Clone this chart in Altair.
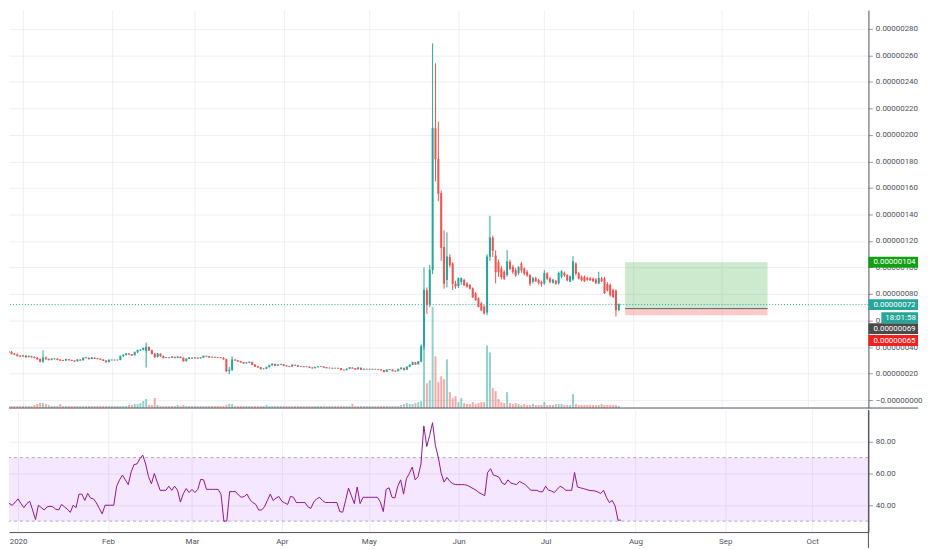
import altair as alt
import pandas as pd

# Daily candles of a BTC pair, prices in satoshi (1 = 0.00000001), starting 2019-12-26
START = "2019-12-26"

opens = [
    37, 36, 36.5, 35, 34.5, 33.5, 33, 33.5, 32.5, 33,
    32.5, 32, 31, 29, 32, 31, 30.5, 31, 31.2, 30.5,
    30, 29.8, 30.8, 30.3, 29.8, 29.3, 30.5, 30, 31.8, 31.9,
    31, 32, 31.4, 31.2, 30.6, 29.8, 28.8, 30.2, 30.3, 30.2,
    30.3, 33, 34, 35, 34.5, 33.8, 36, 37.5, 37.8, 37,
    40, 37.5, 35, 32.5, 35, 33.2, 32, 32.1, 32, 32.6,
    32, 32.6, 32, 29.5, 31, 32, 31.5, 32, 31.5, 32,
    33.2, 33.1, 32.3, 32.4, 32.3, 32.2, 32, 31, 22, 22.5,
    30.5, 30, 29.3, 28.5, 27.8, 28.2, 28.8, 26.8, 25.5, 24.8,
    23.5, 23.6, 24.8, 26.2, 27.3, 26, 26.6, 27, 26, 25.6,
    25.2, 26.5, 26.2, 25.3, 25.3, 25.1, 25.2, 24.5, 24.1, 24.8,
    25.2, 25.3, 24.7, 24.2, 24.2, 24, 24.1, 24, 22.8, 22.6,
    23.5, 24.5, 24, 23.2, 24.4, 23, 23.4, 23.3, 23.4, 23.2,
    23.3, 23.1, 22.6, 21.3, 22.8, 23, 22, 21.8, 23.3, 24.3,
    22.8, 25, 26.5, 28.5, 27, 29, 40.5, 83, 72, 98,
    205, 182, 156, 115.5, 90.6, 108, 103, 88, 86, 89,
    90.6, 88, 86.8, 84.3, 80.6, 76.8, 73, 70.6, 66, 108,
    122.5, 109, 104, 99.3, 96.8, 94.3, 104.3, 100.5, 98, 95.6,
    103, 99.3, 96.8, 94.3, 89.3, 91.8, 90.6, 89.3, 88, 95.6,
    91.8, 88.5, 90, 88, 93, 96, 94.3, 89.3, 91, 103,
    95.6, 93, 93, 92, 92, 91.5, 91, 88, 91.8, 91.8,
    87.5, 86.8, 83, 82.5, 68,
]
highs = [
    38, 37, 37, 35.5, 35, 34, 34, 34, 33.5, 33.5,
    33, 32.5, 31.5, 37.5, 33, 31.5, 31.5, 31.5, 31.5, 31,
    30.5, 31, 31, 30.5, 30, 30.8, 30.8, 32, 32.3, 32,
    32.3, 32.2, 31.8, 31.5, 30.8, 30, 30.5, 30.5, 30.6, 30.5,
    33.5, 34.5, 35.5, 35.5, 34.8, 36.5, 38, 38.2, 39.5, 43.4,
    40.5, 38, 35.5, 35.5, 35.3, 33.5, 32.5, 32.4, 33, 32.8,
    33, 32.8, 32.2, 31.5, 32.2, 32.2, 32.4, 32.2, 32.4, 33.5,
    33.5, 33.4, 32.6, 32.6, 32.6, 32.5, 32.2, 31.2, 25, 33,
    31, 30.4, 29.6, 28.8, 28.5, 29, 29, 27, 25.8, 25,
    24, 25, 26.5, 27.5, 27.5, 26.8, 27.2, 27.2, 26.2, 25.8,
    26.8, 26.8, 26.4, 25.6, 25.5, 25.4, 25.4, 24.7, 25, 25.4,
    25.5, 25.5, 24.9, 24.5, 24.4, 24.3, 24.3, 24.2, 23, 23.7,
    24.7, 24.7, 24.2, 24.6, 24.6, 23.6, 23.6, 23.6, 23.6, 23.5,
    23.5, 23.3, 22.8, 23, 23.2, 23.2, 22.3, 23.5, 24.5, 24.5,
    25.2, 26.8, 28.8, 28.7, 29.2, 42, 100, 85, 102, 269,
    254, 210, 158, 128, 126.5, 110, 104, 90, 92.5, 92.5,
    91.5, 89, 87.5, 85, 81.5, 77.5, 74, 71.5, 110, 139,
    124, 113, 106, 101, 98, 113, 106, 102, 99.5, 101,
    104.3, 100, 98, 95, 93, 93, 91.5, 90, 98, 96.5,
    93, 91.5, 90.6, 97, 98, 97, 95, 94, 108.5, 104,
    96.5, 94, 94, 93, 93, 92.5, 92, 96.8, 93, 93,
    89, 88, 84, 83.5, 73,
]
lows = [
    35.5, 35.5, 34.5, 34, 33, 32.5, 32.5, 32, 32, 32,
    31.5, 30.5, 28.5, 28, 30.5, 30, 30, 30.5, 30.2, 29.5,
    29.5, 29.5, 30, 29.5, 29, 29, 29.8, 29.8, 31.3, 30.8,
    30.8, 31, 31, 30.3, 29.5, 28.5, 28.5, 29.8, 29.8, 29.9,
    30, 32.5, 33.5, 34, 33.5, 33.5, 35.5, 37, 37.5, 24.5,
    37, 34.5, 32, 32, 32.8, 31.5, 31.5, 31.6, 31.8, 31.8,
    31.8, 31.8, 29, 29, 30.8, 31.2, 31.3, 31.3, 31.3, 31.8,
    32.8, 32, 32, 32, 31.8, 31.6, 30.5, 21, 19.5, 22,
    29.8, 29, 28.2, 27.5, 27.5, 28, 26.5, 25.2, 24.5, 23.2,
    23.2, 23.4, 24.6, 26, 25.8, 25.8, 26.4, 25.8, 25.4, 25,
    25, 26, 25.1, 25, 24.9, 24.9, 24.3, 23.9, 23.9, 24.6,
    25, 24.5, 24, 24, 23.8, 23.8, 23.8, 22.6, 22.4, 22.4,
    23.3, 23.8, 23, 23, 22.8, 22.8, 23.1, 23.1, 23, 23,
    22.9, 22.4, 21.1, 21.1, 22.6, 21.8, 21.6, 21.6, 23.1, 22.6,
    22.6, 24.8, 26.3, 26.8, 26.8, 28.5, 38, 65, 70, 95,
    165, 150, 105, 84, 85, 100, 83, 84, 84.5, 87,
    86, 85, 83.5, 77, 75, 70, 67, 64.5, 64, 105,
    108, 88, 93, 91, 90.6, 93, 98, 95, 93, 94.5,
    96, 94, 93, 86, 88, 89, 87, 85.5, 87, 90.6,
    88, 88, 87, 87, 92, 93, 89.5, 89, 90, 94,
    91, 89.5, 89, 90, 90, 89, 87.5, 87.5, 89, 80,
    82, 78, 77, 63, 67,
]
closes = [
    36, 36.5, 35, 34.5, 33.5, 33, 33.5, 32.5, 33, 32.5,
    32, 31, 29, 32, 31, 30.5, 31, 31.2, 30.5, 30,
    29.8, 30.8, 30.3, 29.8, 29.3, 30.5, 30, 31.8, 31.9, 31,
    32, 31.4, 31.2, 30.6, 29.8, 28.8, 30.2, 30.3, 30.2, 30.3,
    33, 34, 35, 34.5, 33.8, 36, 37.5, 37.8, 39, 40,
    37.5, 35, 32.5, 35, 33.2, 32, 32.1, 32, 32.6, 32,
    32.6, 32, 29.5, 31, 32, 31.5, 32, 31.5, 32, 33.2,
    33.1, 32.3, 32.4, 32.3, 32.2, 32, 31, 22, 22.5, 30.5,
    30, 29.3, 28.5, 27.8, 28.2, 28.8, 26.8, 25.5, 24.8, 23.5,
    23.6, 24.8, 26.2, 27.3, 26, 26.6, 27, 26, 25.6, 25.2,
    26.5, 26.2, 25.3, 25.3, 25.1, 25.2, 24.5, 24.1, 24.8, 25.2,
    25.3, 24.7, 24.2, 24.2, 24, 24.1, 24, 22.8, 22.6, 23.5,
    24.5, 24, 23.2, 24.4, 23, 23.4, 23.3, 23.4, 23.2, 23.3,
    23.1, 22.6, 21.3, 22.8, 23, 22, 21.8, 23.3, 24.3, 22.8,
    25, 26.5, 28.5, 27, 29, 40.5, 83, 72, 98, 205,
    182, 156, 115, 88, 108, 102, 88, 86, 91.5, 91.8,
    86.8, 85.5, 84.3, 78, 75.6, 70.6, 68, 65.6, 108, 122.5,
    113, 96.8, 96.8, 93, 91.8, 104.3, 99.3, 96.8, 94.3, 100,
    98, 95.6, 94.3, 88, 91.8, 90, 88.5, 88, 95.6, 91.8,
    89.3, 90.6, 88, 95.6, 96.8, 94.3, 90.6, 93, 104.3, 95.6,
    92, 90.6, 90, 91, 90.6, 90, 88.5, 91.8, 90, 81,
    83, 79.3, 78, 68, 72,
]
# volume (relative units)
volumes = [
    2, 2, 2, 2, 2, 2, 2, 2, 2, 2,
    3, 4, 5, 5, 4, 3, 2, 2, 2, 4,
    2, 2, 2, 2, 2, 2, 2, 2, 2, 2,
    2, 2, 2, 2, 2, 2, 2, 2, 2, 2,
    2, 2, 2, 3, 3, 4, 4, 5, 7, 9,
    3, 3, 10, 3, 2, 2, 2, 2, 2, 2,
    3, 2, 3, 2, 2, 2, 2, 2, 2, 2,
    2, 2, 2, 2, 2, 2, 2, 3, 4, 4,
    2, 2, 2, 2, 2, 2, 2, 2, 2, 2,
    2, 3, 2, 2, 2, 2, 2, 2, 2, 2,
    2, 2, 2, 2, 2, 2, 2, 2, 2, 2,
    2, 2, 2, 2, 2, 2, 2, 2, 2, 2,
    2, 4, 2, 2, 2, 2, 2, 2, 2, 2,
    2, 2, 2, 2, 2, 2, 2, 2, 3, 4,
    5, 4, 4, 5, 6, 7, 95, 25, 28, 102,
    52, 26, 32, 29, 49, 16, 10, 12, 6, 10,
    5, 4, 4, 6, 4, 5, 6, 6, 63, 56,
    20, 17, 9, 6, 5, 16, 5, 4, 5, 4,
    3, 4, 3, 3, 4, 3, 3, 3, 6, 3,
    3, 3, 4, 4, 4, 3, 3, 3, 14, 4,
    3, 3, 3, 3, 3, 3, 3, 3, 4, 3,
    3, 3, 3, 3, 2,
]
rsi_values = [
    49, 46, 43, 41, 40, 42, 44, 41, 38.5, 41,
    42.5, 37, 31, 40, 38.5, 37, 39, 39.4, 39, 37.5,
    37, 40.5, 39, 37.5, 35.5, 40, 38.5, 47, 47, 43,
    47.5, 44.5, 44, 41.5, 38, 34.6, 40, 40, 40, 40,
    52, 56, 59, 56, 53, 61, 65.6, 66, 69.3, 71.6,
    66, 58, 53.5, 60, 54.6, 49.4, 49.4, 49.4, 52, 49.4,
    52, 49.5, 42, 47.3, 50.5, 48, 50, 48, 50, 56.3,
    56, 50, 50, 50, 50, 50, 47, 30, 30, 48.6,
    48.6, 48.6, 46.5, 45, 45.5, 47, 43.5, 41.7, 40.5, 37,
    37, 39, 43, 47, 43, 44.5, 45.5, 42.5, 41.5, 40.5,
    45.6, 45, 41.7, 41.7, 41.7, 41.7, 39, 38, 42, 44,
    45, 43, 41.7, 41.7, 41.7, 41.7, 41.7, 36, 35.6, 43,
    50.8, 46, 41, 51.5, 41, 45, 45, 45, 45, 45,
    45, 42, 36, 50, 51, 45, 44.6, 52, 56, 47,
    56.8, 60, 64, 56, 58, 66, 90, 77, 84, 92,
    77.5, 70, 60, 54.6, 57.5, 55, 53.6, 53, 53, 53,
    53, 52.5, 51.5, 50.5, 49.5, 48, 47, 46, 60.6, 63,
    59, 58.5, 57.5, 54, 53, 56, 54, 53.5, 53, 55,
    54, 53, 51, 49.4, 49.4, 49.4, 48.5, 48.5, 52, 49.5,
    49, 48, 50, 52, 51, 49.4, 49.4, 49.4, 60.6, 51.5,
    51, 50.5, 50, 49.4, 49.2, 49, 48.4, 47.4, 49.4, 45,
    41.7, 43, 39.5, 30.6, 30.6,
]

# long-position tool (prices in satoshi)
pos_start, pos_end = "2020-07-29T05:00:00Z", "2020-09-16T22:00:00Z"
pos_entry, pos_target, pos_stop = 69, 104, 64
last_price = 72
rsi_upper, rsi_lower = 70, 30

badge_texts = ["0.00000104", "0.00000072", "0.00000069", "0.00000065"]
badge_levels = [104, 72, 53.9, 44.9]
badge_colors = ["#139f13", "#26a69a", "#4a4a4a", "#f51f1f"]
countdown_text = ["18:01:58"]
countdown_level = [62.1]

price_ticks = list(range(0, 281, 20))
rsi_ticks = [40, 60, 80]
month_ticks = [alt.DateTime(year=2020, month=m, date=1, utc=True) for m in range(1, 11)]

n = len(closes)
assert all(len(a) == n for a in [opens, highs, lows, volumes, rsi_values])

dates = pd.date_range(START, periods=n, freq="D")
df = pd.DataFrame({
    "date": [d.strftime("%Y-%m-%dT00:00:00Z") for d in dates],
    "open": opens, "high": highs, "low": lows, "close": closes,
    "volume": volumes, "rsi": rsi_values,
})
df["dir"] = ["up" if c >= o else "down" for o, c in zip(opens, closes)]

UP, DOWN = "#26a69a", "#ef5350"
GRID = "#eceff4"
AXC = "#50535e"
LBL = "#4c525e"
FONT = "Roboto"
W, H1, H2 = 866, 401, 123

xscale = alt.Scale(type="utc", domain=[
    alt.DateTime(year=2019, month=12, date=28, hours=20, minutes=23, utc=True),
    alt.DateTime(year=2020, month=10, date=20, hours=9, minutes=36, utc=True)])
top_xaxis = alt.Axis(values=month_ticks, grid=True, gridColor=GRID, labels=False,
                     ticks=False, domain=False, title=None)
bot_xaxis = alt.Axis(values=month_ticks, grid=True, gridColor=GRID, ticks=False,
                     domain=True, domainColor=AXC, labelColor=LBL, labelFontSize=8,
                     labelPadding=6, title=None,
                     labelExpr="utcFormat(datum.value, '%m') == '01' ? utcFormat(datum.value, '%Y') : utcFormat(datum.value, '%b')")
price_axis = alt.Axis(orient="right", values=price_ticks, grid=True, gridColor=GRID,
                      tickSize=4, tickColor="#9598a1", domainColor=AXC, labelColor=LBL,
                      labelFontSize=8, labelPadding=3, title=None,
                      labelExpr="datum.value == 0 ? '\u22120.00000000' : format(datum.value / 100000000, '.8f')")
rsi_axis = alt.Axis(orient="right", values=rsi_ticks, format=".2f", grid=True, gridColor=GRID,
                    tickSize=4, tickColor="#9598a1", domainColor=AXC, labelColor=LBL,
                    labelFontSize=8, labelPadding=3, title=None)
pscale = alt.Scale(domain=[-6, 294.2], nice=False, zero=False)
rscale = alt.Scale(domain=[23.1, 100], nice=False, zero=False)


def XT(field="date"):
    return alt.X(f"{field}:T", scale=xscale, axis=top_xaxis, title=None)


def XB(field="date"):
    return alt.X(f"{field}:T", scale=xscale, axis=bot_xaxis, title=None)


def YP(field):
    return alt.Y(f"{field}:Q", scale=pscale, axis=price_axis, title=None)


def YR(field):
    return alt.Y(f"{field}:Q", scale=rscale, axis=rsi_axis, title=None)


COLOR = alt.Color("dir:N", scale=alt.Scale(domain=["up", "down"], range=[UP, DOWN]), legend=None)
base = alt.Chart(df)

# ---------- price pane ----------
pos_df = pd.DataFrame({"start": [pos_start], "end": [pos_end], "entry": [pos_entry],
                       "target": [pos_target], "stop": [pos_stop]})
box_green = alt.Chart(pos_df).mark_rect(color="#4caf50", opacity=0.28).encode(
    x=XT("start"), x2="end", y=YP("entry"), y2="target")
box_red = alt.Chart(pos_df).mark_rect(color="#f44336", opacity=0.28).encode(
    x=XT("start"), x2="end", y=YP("stop"), y2="entry")
entry_line = alt.Chart(pos_df).mark_rule(color="#5d606b", strokeWidth=1).encode(
    x=XT("start"), x2="end", y=YP("entry"))
last_line = alt.Chart(pd.DataFrame({"p": [last_price]})).mark_rule(
    color=UP, strokeDash=[1, 2], strokeWidth=1).encode(y=YP("p"))

wicks = base.mark_rule(strokeWidth=1, clip=True).encode(x=XT(), y=YP("low"), y2="high", color=COLOR)
bodies = base.mark_rule(strokeWidth=2, strokeCap="butt", clip=True).encode(
    x=XT(), y=YP("open"), y2="close", color=COLOR)
body_min = base.mark_tick(orient="horizontal", size=2, thickness=1, clip=True).encode(
    x=XT(), y=YP("close"), color=COLOR)

badges_df = pd.DataFrame({"text": badge_texts, "level": badge_levels, "bg": badge_colors})
badge_bg = alt.Chart(badges_df).mark_rule(strokeWidth=11, strokeCap="butt").encode(
    x=alt.value(W), x2=alt.value(W + 50), y=YP("level"), stroke=alt.Stroke("bg:N", scale=None))
badge_tx = alt.Chart(badges_df).mark_text(align="left", baseline="middle", color="white",
                                          fontSize=8, font=FONT).encode(
    x=alt.value(W + 5), y=YP("level"), text="text:N")
cd_df = pd.DataFrame({"text": countdown_text, "level": countdown_level})
cd_bg = alt.Chart(cd_df).mark_rule(strokeWidth=11, strokeCap="butt", color=UP).encode(
    x=alt.value(W + 13), x2=alt.value(W + 50), y=YP("level"))
cd_tx = alt.Chart(cd_df).mark_text(align="left", baseline="middle", color="white",
                                   fontSize=8, font=FONT).encode(
    x=alt.value(W + 17), y=YP("level"), text="text:N")
separator = alt.Chart(pd.DataFrame({"a": [0]})).mark_rule(color=AXC, strokeWidth=1).encode(
    x=alt.value(0), x2=alt.value(W + 50), y=alt.value(H1))

vol = base.mark_bar(width=2, opacity=0.5, clip=True).encode(
    x=XT(), y=alt.Y("volume:Q", scale=alt.Scale(domain=[0, 401], nice=False), axis=None, title=None),
    color=COLOR)

price_layers = alt.layer(box_green, box_red, entry_line, last_line, wicks, bodies, body_min,
                         badge_bg, badge_tx, cd_bg, cd_tx, separator)
top = alt.layer(vol, price_layers).resolve_scale(y="independent").properties(width=W, height=H1)

# ---------- RSI pane ----------
band = alt.Chart(pd.DataFrame({"lo": [rsi_lower], "hi": [rsi_upper]})).mark_rect(
    color="#9915ff", opacity=0.1).encode(x=alt.value(0), x2=alt.value(W), y=YR("lo"), y2="hi")
band_lines = alt.Chart(pd.DataFrame({"lvl": [rsi_lower, rsi_upper]})).mark_rule(
    color="#a9abb5", strokeDash=[3, 3], strokeWidth=1).encode(y=YR("lvl"))
rsi_line = base.mark_line(color="#8e1599", strokeWidth=1, clip=True).encode(x=XB(), y=YR("rsi"))
scale_line = alt.Chart(pd.DataFrame({"a": [0]})).mark_rule(color=AXC, strokeWidth=1).encode(
    x=alt.value(W), y=alt.value(0), y2=alt.value(H2 + 16))
bottom = alt.layer(band, band_lines, rsi_line, scale_line).properties(width=W, height=H2)

chart = alt.vconcat(top, bottom, spacing=0).properties(
    padding={"left": 0, "top": 0, "right": 0, "bottom": 0}, background="white"
).configure_view(stroke=None).configure_axis(labelFont=FONT).configure_text(font=FONT)

chart.save("out.html", embed_options={"renderer": "svg", "actions": False})
